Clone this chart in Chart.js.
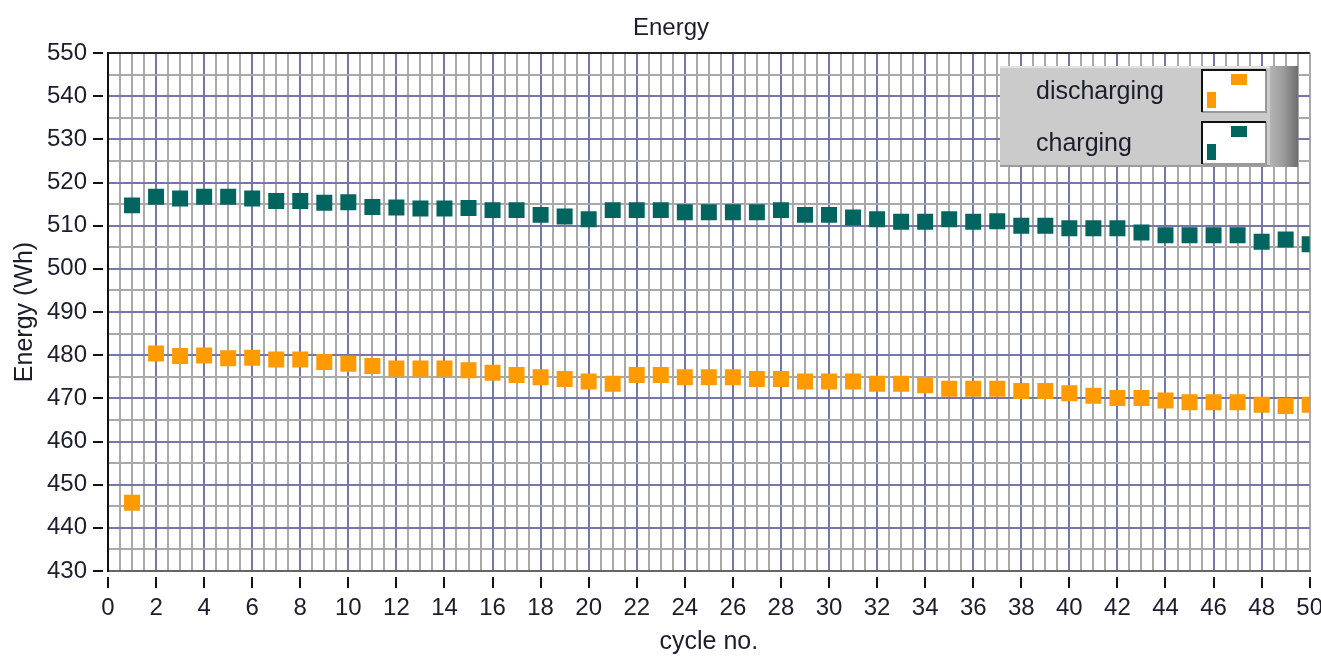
<!DOCTYPE html>
<html>
<head>
<meta charset="utf-8">
<script src="https://cdn.jsdelivr.net/npm/chart.js@4"></script>
<style>
html, body { margin:0; padding:0; background:#fff; }
#wrap { width:1321px; height:658px; }
</style>
</head>
<body>
<div id="wrap"><canvas id="energyChart" width="1321" height="658"></canvas></div>
<script>
var cycles = [1,2,3,4,5,6,7,8,9,10,11,12,13,14,15,16,17,18,19,20,21,22,23,24,25,26,27,28,29,30,31,32,33,34,35,36,37,38,39,40,41,42,43,44,45,46,47,48,49,50];
var charging = [514.7,516.7,516.3,516.7,516.7,516.3,515.7,515.7,515.3,515.4,514.3,514.2,514.0,514.0,514.1,513.6,513.6,512.5,512.1,511.5,
	513.6,513.6,513.6,513.1,513.1,513.1,513.1,513.6,512.5,512.5,511.9,511.5,510.9,510.9,511.5,510.9,511.0,510.0,510.0,509.4,
	509.4,509.4,508.4,507.8,507.8,507.8,507.8,506.3,506.8,505.7];
var discharging = [445.8,480.4,479.8,479.9,479.3,479.4,479.0,479.0,478.4,478.0,477.5,476.9,476.9,476.9,476.5,475.9,475.4,474.9,474.5,473.9,
	473.4,475.4,475.4,474.9,474.9,474.9,474.5,474.5,473.9,473.9,473.9,473.4,473.4,473.0,472.2,472.2,472.2,471.7,471.7,471.2,
	470.6,470.1,470.1,469.5,469.1,469.1,469.1,468.5,468.2,468.5];
var seriesNames = ['discharging','charging'];
var color = ['#FF9A00','#00645F'];

var xMin = 0, xMax = 50, xMajor = 2, xMinor = 0.5;
var yMin = 430, yMax = 550, yMajor = 10, yMinor = 5;

function toPoints(vals){
	var pts = [];
	for(var i in vals){
		pts.push({x: cycles[i], y: vals[i]});
	}
	return pts;
}

var textColor = '#1c1c2c';
var majorColor = '#7676A8';
var minorColor = '#A9A9A9';
var fontFam = '"Liberation Sans", Arial, sans-serif';

// title, frame, detached tick marks and the LabVIEW-ish legend
var extras = {
	id: 'extras',
	afterDraw: function(chart){
		var c = chart.ctx;
		var a = chart.chartArea;
		var sx = chart.scales.x, sy = chart.scales.y;
		c.save();
		// title
		c.fillStyle = textColor;
		c.font = '24px ' + fontFam;
		c.textAlign = 'center';
		c.textBaseline = 'middle';
		c.fillText('Energy', 671, 28);
		// top frame
		c.strokeStyle = '#222';
		c.lineWidth = 2;
		c.beginPath();
		c.moveTo(a.left, a.top); c.lineTo(a.right, a.top);
		c.stroke();
		// tick marks
		c.strokeStyle = '#111';
		c.lineWidth = 2;
		for(var v = yMin; v <= yMax; v += yMajor){
			var py = Math.round(sy.getPixelForValue(v));
			c.beginPath(); c.moveTo(a.left - 15, py); c.lineTo(a.left - 5, py); c.stroke();
		}
		for(var v = xMin; v <= xMax; v += xMajor){
			var px = Math.round(sx.getPixelForValue(v));
			c.beginPath(); c.moveTo(px, a.bottom + 6); c.lineTo(px, a.bottom + 17); c.stroke();
		}
		// legend box
		var lx = 1000, ly = 66, lw = 298, lh = 101;
		c.fillStyle = '#CBCBCB';
		c.fillRect(lx, ly, lw, lh);
		var g = c.createLinearGradient(lx + 270, 0, lx + lw, 0);
		g.addColorStop(0, '#B4B4B4');
		g.addColorStop(0.5, '#9A9A9A');
		g.addColorStop(1, '#6E6E6E');
		c.fillStyle = g;
		c.fillRect(lx + 270, ly, lw - 270, lh);
		c.fillStyle = '#E2E2E2';
		c.fillRect(lx, ly, 270, 2);
		c.fillStyle = '#9C9C9C';
		c.fillRect(lx, ly + lh - 2, 270, 2);
		for(var k = 0; k < seriesNames.length; k++){
			var by = ly + 4 + k * 52;
			c.fillStyle = textColor;
			c.font = '25px ' + fontFam;
			c.textAlign = 'left';
			c.fillText(seriesNames[k], lx + 36, by + 22);
			// swatch
			var bx = 1202;
			c.fillStyle = '#fff';
			c.fillRect(bx, by, 64, 42);
			c.strokeStyle = '#999';
			c.lineWidth = 2;
			c.beginPath(); c.moveTo(bx + 64, by); c.lineTo(bx + 64, by + 42); c.lineTo(bx, by + 42); c.stroke();
			c.strokeStyle = '#111';
			c.beginPath(); c.moveTo(bx, by + 42); c.lineTo(bx, by); c.lineTo(bx + 64, by); c.stroke();
			c.fillStyle = color[k];
			c.fillRect(bx + 29, by + 4, 16, 11);
			c.fillRect(bx + 5, by + 22, 9, 16);
		}
		c.restore();
	}
};

var ctx = document.getElementById('energyChart').getContext('2d');
var chart = new Chart(ctx, {
	type: 'scatter',
	data: {
		datasets: [{
			label: seriesNames[0],
			data: toPoints(discharging),
			backgroundColor: color[0],
			borderWidth: 0,
			pointStyle: 'rect',
			pointRadius: 11.3,
			pointHoverRadius: 11.3
		},{
			label: seriesNames[1],
			data: toPoints(charging),
			backgroundColor: color[1],
			borderWidth: 0,
			pointStyle: 'rect',
			pointRadius: 11.3,
			pointHoverRadius: 11.3
		}]
	},
	options: {
		responsive: false,
		animation: false,
		events: [],
		layout: { padding: { top: 53, right: 11, left: 0, bottom: 0 } },
		plugins: {
			legend: { display: false },
			title: { display: false },
			tooltip: { enabled: false }
		},
		scales: {
			x: {
				type: 'linear',
				min: xMin, max: xMax,
				afterFit: function(s){ s.height = 87; s.paddingLeft = 0; s.paddingRight = 0; },
				border: { color: '#666', width: 2 },
				grid: {
					drawTicks: false,
					lineWidth: 2,
					color: function(c){
						var v = c.tick.value;
						if(v == xMax) return minorColor;
						return (Math.abs(v % xMajor) < 1e-6) ? majorColor : minorColor;
					}
				},
				ticks: {
					stepSize: xMinor,
					autoSkip: false,
					maxRotation: 0,
					padding: 23,
					color: textColor,
					font: { family: fontFam, size: 24 },
					callback: function(v){ return (Math.abs(v % xMajor) < 1e-6) ? v : ''; }
				},
				title: {
					display: true,
					text: 'cycle no.',
					color: textColor,
					font: { family: fontFam, size: 25, lineHeight: 1.2 },
					padding: { top: 0, bottom: 1 }
				}
			},
			y: {
				min: yMin, max: yMax,
				afterFit: function(s){ s.width = 108; s.paddingTop = 0; s.paddingBottom = 0; },
				border: { color: '#111', width: 2 },
				grid: {
					drawTicks: false,
					lineWidth: 2,
					color: function(c){
						var v = c.tick.value;
						return (Math.abs(v % yMajor) < 1e-6) ? majorColor : minorColor;
					}
				},
				ticks: {
					stepSize: yMinor,
					autoSkip: false,
					padding: 21,
					color: textColor,
					font: { family: fontFam, size: 24 },
					callback: function(v){ return (Math.abs(v % yMajor) < 1e-6) ? v : ''; }
				},
				title: {
					display: true,
					text: 'Energy (Wh)',
					color: textColor,
					font: { family: fontFam, size: 25, lineHeight: 1.2 },
					padding: { top: 10, bottom: 0 }
				}
			}
		}
	},
	plugins: [extras]
});
</script>
</body>
</html>
